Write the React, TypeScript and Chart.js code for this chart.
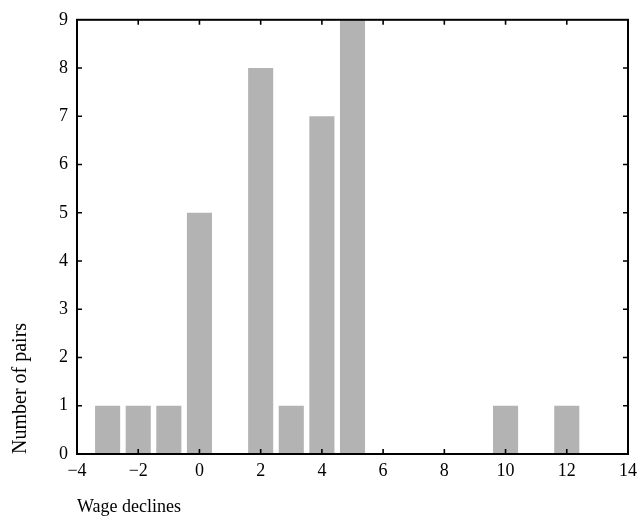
import React, { useEffect, useRef } from "react";
import { Chart, registerables } from "chart.js";

Chart.register(...registerables);

const wageDeclines = [-3, -2, -1, 0, 2, 3, 4, 5, 10, 12];
const numberOfPairs = [1, 1, 1, 5, 8, 1, 7, 9, 1, 1];
const xMin = -4;
const xMax = 14;
const xStep = 2;
const yMin = 0;
const yMax = 9;
const yStep = 1;
const xTitle = "Wage declines";
const yTitle = "Number of pairs";

const FONT = "'Liberation Serif', 'DejaVu Serif', serif";

const framePlugin = {
  id: "frameTicks",
  afterDraw(chart: any) {
    const { ctx, chartArea, scales } = chart;
    const { left, right, top, bottom } = chartArea;
    const len = 5;
    ctx.save();
    ctx.strokeStyle = "#000";
    ctx.lineWidth = 1.6;
    ctx.beginPath();
    scales.x.ticks.forEach((t: any) => {
      const px = scales.x.getPixelForValue(t.value);
      if (Math.abs(px - left) < 1 || Math.abs(px - right) < 1) return;
      ctx.moveTo(px, bottom);
      ctx.lineTo(px, bottom - len);
      ctx.moveTo(px, top);
      ctx.lineTo(px, top + len);
    });
    scales.y.ticks.forEach((t: any) => {
      const py = scales.y.getPixelForValue(t.value);
      if (Math.abs(py - top) < 1 || Math.abs(py - bottom) < 1) return;
      ctx.moveTo(left, py);
      ctx.lineTo(left + len, py);
      ctx.moveTo(right, py);
      ctx.lineTo(right - len, py);
    });
    ctx.stroke();
    ctx.lineWidth = 2;
    ctx.strokeRect(left, top, right - left, bottom - top);
    ctx.restore();
  },
};

export default function App() {
  const ref = useRef<HTMLCanvasElement | null>(null);

  useEffect(() => {
    if (!ref.current) return;
    const chart = new Chart(ref.current, {
      type: "bar",
      data: {
        datasets: [
          {
            data: wageDeclines.map((x, i) => ({ x, y: numberOfPairs[i] })),
            backgroundColor: "#b3b3b3",
            borderWidth: 0,
            barPercentage: 0.82,
            categoryPercentage: 1,
          },
        ],
      },
      options: {
        animation: false,
        responsive: false,
        devicePixelRatio: 1,
        layout: { padding: { top: 19, right: 14, left: 0, bottom: 0 } },
        plugins: {
          legend: { display: false },
          tooltip: { enabled: false },
        },
        scales: {
          x: {
            type: "linear",
            min: xMin,
            max: xMax,
            offset: false,
            grid: { display: false, drawTicks: false },
            border: { display: false },
            ticks: {
              stepSize: xStep,
              color: "#000",
              padding: 6,
              maxRotation: 0,
              font: { family: FONT, size: 18 },
              callback: (v: any) => String(v).replace("-", "\u2212"),
            },
            title: {
              display: true,
              text: xTitle,
              align: "start",
              color: "#000",
              font: { family: FONT, size: 18 },
              padding: { top: 0, bottom: 3 },
            },
            afterFit: (s: any) => {
              s.height = 67;
            },
          },
          y: {
            min: yMin,
            max: yMax,
            grid: { display: false, drawTicks: false },
            border: { display: false },
            ticks: {
              stepSize: yStep,
              color: "#000",
              padding: 9,
              font: { family: FONT, size: 18 },
            },
            title: {
              display: true,
              text: yTitle,
              align: "start",
              color: "#000",
              font: { family: FONT, size: 20 },
              padding: { top: 9, bottom: 0 },
            },
            afterFit: (s: any) => {
              s.width = 77;
            },
          },
        },
      },
      plugins: [framePlugin],
    } as any);
    return () => chart.destroy();
  }, []);

  return (
    <div style={{ position: "absolute", left: 0, top: 0, width: 643, height: 521, background: "#fff" }}>
      <canvas ref={ref} width={643} height={521} style={{ display: "block" }} />
    </div>
  );
}
